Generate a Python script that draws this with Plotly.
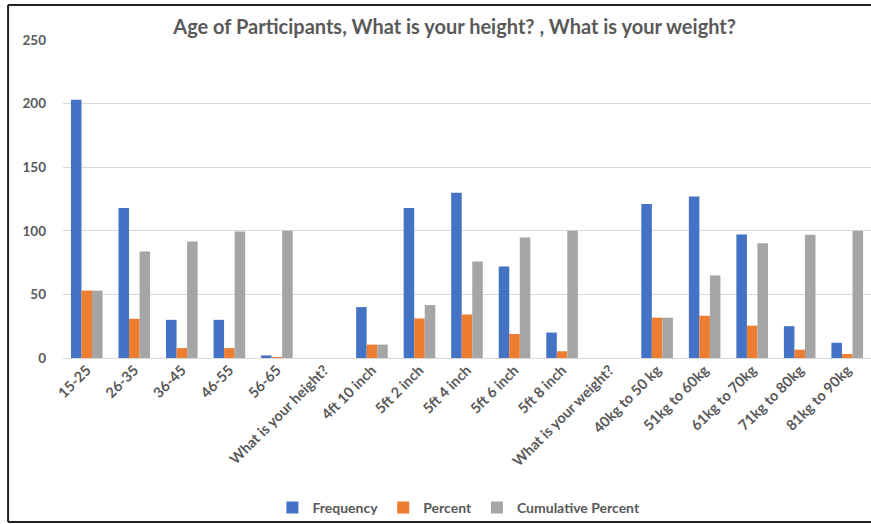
import plotly.graph_objects as go

categories = [
    "15-25", "26-35", "36-45", "46-55", "56-65",
    "What is your height?",
    "4ft 10 inch", "5ft 2 inch", "5ft 4 inch", "5ft 6 inch", "5ft 8 inch",
    "What is your weight?",
    "40kg to 50 kg", "51kg to 60kg", "61kg to 70kg", "71kg to 80kg", "81kg to 90kg",
]
frequency = [203, 118, 30, 30, 2, None, 40, 118, 130, 72, 20, None, 121, 127, 97, 25, 12]
percent = [53.0, 30.8, 7.8, 7.8, 0.5, None, 10.5, 31.1, 34.2, 18.9, 5.3, None,
           31.7, 33.2, 25.4, 6.5, 3.1]
cumulative_percent = [53.0, 83.8, 91.6, 99.5, 100, None, 10.5, 41.6, 75.8, 94.7, 100, None,
                      31.7, 64.9, 90.3, 96.9, 100]
y_ticks = [0, 50, 100, 150, 200, 250]

FONT = "Lato, 'Open Sans', sans-serif"
TEXT = "#595959"

fig = go.Figure()
for name, vals, color in [
    ("Frequency", frequency, "#4472C4"),
    ("Percent", percent, "#ED7D31"),
    ("Cumulative Percent", cumulative_percent, "#A5A5A5"),
]:
    fig.add_trace(go.Bar(
        x=categories, y=vals, name=name,
        marker=dict(color=color, line=dict(width=0)),
    ))

# frame drawn on the top, left and bottom edges of the chart
frame = dict(type="line", xref="paper", yref="paper",
             line=dict(color="#222222", width=2), layer="above")
X_LEFT, X_RIGHT, Y_BOTTOM, Y_TOP = -0.068, 1.05, -0.516, 1.110

fig.update_layout(
    width=871, height=524,
    margin=dict(l=63, r=0, t=40, b=166),
    paper_bgcolor="white", plot_bgcolor="white",
    barmode="group", bargap=0.335, bargroupgap=0,
    font=dict(family=FONT, color=TEXT),
    title=dict(
        text="Age of Participants, What is your height? , What is your weight?",
        x=0.522, xanchor="center", y=0.948, yanchor="middle",
        font=dict(size=20, color=TEXT, family=FONT, weight=700),
    ),
    legend=dict(
        orientation="h", x=0.49, xanchor="center", y=-0.472, yanchor="middle",
        font=dict(size=14, color=TEXT, family=FONT, weight=700),
        bgcolor="rgba(0,0,0,0)", traceorder="normal",
    ),
    xaxis=dict(
        tickangle=-45, showgrid=False, showline=False, ticks="",
        tickfont=dict(size=14.5, color=TEXT, family=FONT, weight=700),
        type="category",
    ),
    yaxis=dict(
        range=[0, 250], tickvals=y_ticks, showgrid=True, gridcolor="#D9D9D9",
        gridwidth=1, zeroline=True, zerolinecolor="#D9D9D9", zerolinewidth=1,
        showline=False, ticks="", ticklabelstandoff=16,
        tickfont=dict(size=13.5, color=TEXT, family=FONT, weight=700),
    ),
    shapes=[
        dict(frame, x0=X_LEFT, x1=X_RIGHT, y0=Y_TOP, y1=Y_TOP),
        dict(frame, x0=X_LEFT, x1=X_RIGHT, y0=Y_BOTTOM, y1=Y_BOTTOM),
        dict(frame, x0=X_LEFT, x1=X_LEFT, y0=Y_BOTTOM, y1=Y_TOP),
    ],
)

fig.write_html("out.html")
